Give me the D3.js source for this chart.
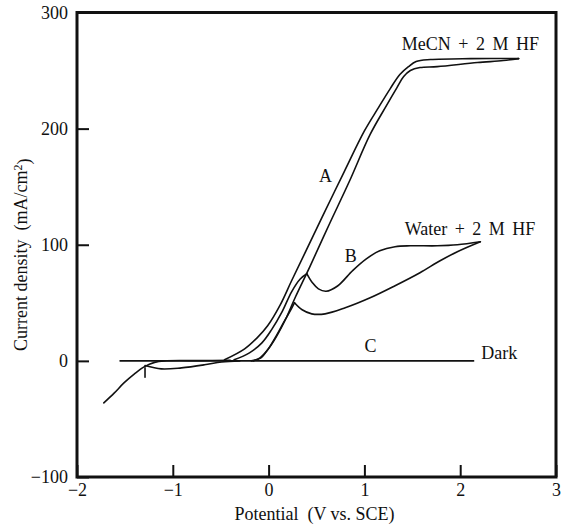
<!DOCTYPE html>
<html>
<head>
<meta charset="utf-8">
<script src="https://cdn.jsdelivr.net/npm/d3@7"></script>
<style>
  body { margin: 0; background: #fff; }
  svg { display: block; }
  .tick line { stroke: #111; stroke-width: 2; }
  .tick text, .lbl { font-family: "Liberation Serif", "DejaVu Serif", serif; font-size: 18px; fill: #111; }
  .curve { fill: none; stroke: #111; stroke-width: 1.6; stroke-linejoin: round; stroke-linecap: round; }
</style>
</head>
<body>
<div id="chart"></div>
<script>
// ── DATA (potential V vs. SCE, current density mA/cm²) ──────────────────────
const xTicks = [-2, -1, 0, 1, 2, 3];
const yTicks = [-100, 0, 100, 200, 300];

// curve A, MeCN + 2 M HF: two nearly parallel sweeps
const aForward = [[-0.46,0.9],[-0.25,10.3],[-0.12,19.8],[-0.01,30.2],[0.12,48],[0.24,69],
  [0.38,93],[0.56,124],[0.79,163],[1.0,198],[1.14,217.2],[1.27,234.5],[1.37,246.6],
  [1.46,253.4],[1.54,257.8],[1.69,259.5],[2.11,260.3],[2.61,260.3]];
const aReverse = [[-0.18,0],[-0.09,2.6],[-0.01,9.5],[0.08,20.7],[0.19,38],[0.28,55],
  [0.43,81],[0.63,117],[0.84,154],[1.06,195],[1.23,219.8],[1.34,235.3],[1.41,244.8],
  [1.48,250],[1.58,252.6],[1.76,253.4],[2.18,256.9],[2.45,258.6],[2.61,260.3]];

// curve B, Water + 2 M HF: rise, upper branch, lower branch, fall
const bRise  = [[-0.36,0.9],[-0.2,6.9],[-0.07,15.5],[0.03,26.7],[0.14,42.2],[0.24,59.5],[0.33,70.5],[0.40,75]];
const bUpper = [[0.40,75],[0.46,67],[0.52,62],[0.60,60],[0.72,64.5],[0.88,78],[1.02,87.9],
  [1.16,94.8],[1.32,98.3],[1.48,99.1],[1.76,99.1],[1.97,100],[2.21,102.6]];
const bLower = [[2.21,102.6],[1.97,94],[1.79,86.2],[1.58,75.9],[1.32,64.7],[1.06,54.3],[0.8,45.7],
  [0.59,40.5],[0.45,40.5],[0.35,44],[0.27,50]];
const bFall  = [[0.27,50],[0.22,42.2],[0.16,33.6],[0.08,21.6],[-0.01,9.5],[-0.08,2.6],[-0.16,0]];

// cathodic part at negative potentials
const negThick  = [[-1.72,-36.2],[-1.61,-27.6],[-1.51,-19],[-1.4,-11.2],[-1.3,-5.2],[-1.19,-1.3],
  [-1.09,0],[-0.7,0.2],[-0.4,0.4]];
const negReturn = [[-1.29,-4],[-1.12,-6.9],[-0.91,-6],[-0.67,-3.4],[-0.49,-0.9],[-0.3,0]];
const negMark   = [[-1.29,-6],[-1.29,-14]];

// curve C, dark
const dark = [[-1.55,0],[2.14,0]];

// annotations (anchored in data coordinates)
const notes = [
  { text: 'MeCN + 2 M HF',  v: 1.39,  i: 268,   anchor: 'start' },
  { text: 'A',              v: 0.595, i: 154,   anchor: 'middle' },
  { text: 'B',              v: 0.857, i: 85,    anchor: 'middle' },
  { text: 'Water + 2 M HF', v: 1.42,  i: 108.5, anchor: 'start' },
  { text: 'C',              v: 1.065, i: 7.7,   anchor: 'middle' },
  { text: 'Dark',           v: 2.22,  i: 1.7,   anchor: 'start' }
];

// ── DIMENSIONS ──────────────────────────────────────────────────────────────
const W = 561, H = 527;
const margin = { top: 12.5, right: 5, bottom: 50, left: 77 };
const width  = W - margin.left - margin.right;
const height = H - margin.top - margin.bottom;

const svg = d3.select('#chart').append('svg')
    .attr('width', W)
    .attr('height', H)
  .append('g')
    .attr('transform', `translate(${margin.left},${margin.top})`);

// ── SCALES ──────────────────────────────────────────────────────────────────
const x = d3.scaleLinear().domain([-2, 3]).range([0, width]);
const y = d3.scaleLinear().domain([-100, 300]).range([height, 0]);

// ── AXES (ticks point inward) ───────────────────────────────────────────────
const xAxisG = svg.append('g')
  .attr('transform', `translate(0,${height})`)
  .call(d3.axisBottom(x).tickValues(xTicks).tickFormat(d3.format('d')).tickSize(-12).tickPadding(6));
const yAxisG = svg.append('g')
  .call(d3.axisLeft(y).tickValues(yTicks).tickFormat(d3.format('d')).tickSize(-12).tickPadding(9));
xAxisG.select('.domain').remove();
yAxisG.select('.domain').remove();
svg.selectAll('.tick text').attr('font-family', null).attr('font-size', null);

// frame
svg.append('rect')
  .attr('width', width)
  .attr('height', height)
  .attr('fill', 'none')
  .attr('stroke', '#111')
  .attr('stroke-width', 3);

// axis titles
svg.append('text')
  .attr('class', 'lbl')
  .attr('x', width / 2 - 2)
  .attr('y', height + 43)
  .attr('text-anchor', 'middle')
  .attr('xml:space', 'preserve')
  .text('Potential  (V vs. SCE)');

const yTitle = svg.append('text')
  .attr('class', 'lbl')
  .attr('transform', `translate(${-50},${height / 2 + 10}) rotate(-90)`)
  .attr('text-anchor', 'middle')
  .attr('xml:space', 'preserve');
yTitle.append('tspan').text('Current density  (mA/cm');
yTitle.append('tspan').attr('dy', '-0.45em').style('font-size', '12px').text('2');
yTitle.append('tspan').attr('dy', '0.45em').text(')');

// ── CURVES ──────────────────────────────────────────────────────────────────
const line = d3.line()
  .x(d => x(d[0]))
  .y(d => y(d[1]))
  .curve(d3.curveCatmullRom.alpha(0.5));

const straight = d3.line().x(d => x(d[0])).y(d => y(d[1]));

svg.append('path').datum(dark).attr('class', 'curve').attr('stroke-width', 1.8).attr('d', straight);

[aForward, aReverse, bRise, bUpper, bLower, bFall].forEach(s => {
  svg.append('path').datum(s).attr('class', 'curve').attr('d', line);
});

svg.append('path').datum(negThick).attr('class', 'curve').attr('stroke-width', 2.8).attr('d', line);
svg.append('path').datum(negReturn).attr('class', 'curve').attr('stroke-width', 1.6).attr('d', line);
svg.append('path').datum(negMark).attr('class', 'curve').attr('stroke-width', 1.6).attr('d', straight);

// ── ANNOTATIONS ─────────────────────────────────────────────────────────────
svg.selectAll('.note')
  .data(notes)
  .join('text')
    .attr('class', 'lbl note')
    .attr('x', d => x(d.v))
    .attr('y', d => y(d.i))
    .attr('text-anchor', d => d.anchor)
    .attr('word-spacing', d => d.text.length > 4 ? 3 : 0)
    .text(d => d.text);
</script>
</body>
</html>
